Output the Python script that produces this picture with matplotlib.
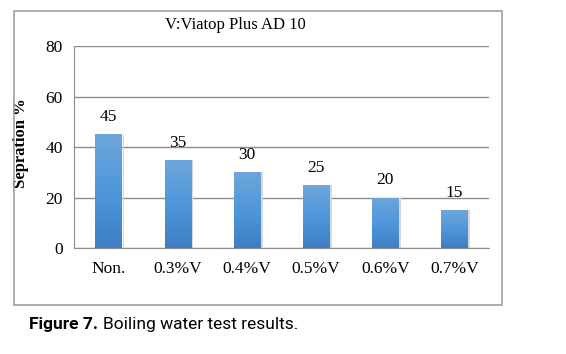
import numpy as np
import matplotlib
matplotlib.use('Agg')
import matplotlib.pyplot as plt
from matplotlib.patches import Rectangle
from matplotlib.colors import LinearSegmentedColormap

categories = ['Non.', '0.3%V', '0.4%V', '0.5%V', '0.6%V', '0.7%V']
separation = [45, 35, 30, 25, 20, 15]
yticks = [0, 20, 40, 60, 80]

serif = ['Liberation Serif', 'DejaVu Serif']
narrow = ['Liberation Sans Narrow', 'Roboto', 'DejaVu Sans']


def main():
    fig = plt.figure(figsize=(5.66, 3.54), dpi=100)
    ax = fig.add_axes([0.1307, 0.2994, 0.7333, 0.5706])

    x = np.arange(len(categories))
    bars = ax.bar(x, separation, width=0.38, color='#5b9bd5', zorder=3)

    # vertical gradient inside each bar (light top, darker bottom)
    cmap = LinearSegmentedColormap.from_list('bar', ['#3d7fc4', '#4f97db', '#6ea6da'])
    grad = np.linspace(0, 1, 100).reshape(-1, 1)
    for b in bars:
        x0, w, h = b.get_x(), b.get_width(), b.get_height()
        # faint shadow to the right of the bar
        ax.bar(x0 + w + 0.012, h, width=0.025, align='edge', color='#d8d8d8', zorder=2)
        im = ax.imshow(grad, cmap=cmap, origin='lower', aspect='auto',
                       extent=(x0, x0 + w, 0, h), zorder=3)
        im.set_clip_path(b)
        ax.text(x0 + w / 2, h + 3.6, str(h), ha='center', va='bottom',
                fontsize=12.5, family=serif)

    ax.set_xlim(-0.5, len(categories) - 0.5)
    ax.set_ylim(0, 80)
    ax.set_yticks(yticks)
    ax.set_xticks(x)
    ax.set_xticklabels(categories, family=serif, fontsize=12.5)
    ax.set_yticklabels([str(t) for t in yticks], family=serif, fontsize=12.5)
    ax.tick_params(length=0, pad=8)
    ax.tick_params(axis='x', pad=9)
    ax.grid(axis='y', color='#8c8c8c', linewidth=1.0, zorder=0)
    for s in ['top', 'right']:
        ax.spines[s].set_visible(False)
    ax.spines['left'].set_color('#8c8c8c')
    ax.spines['bottom'].set_color('#8c8c8c')

    ax.set_ylabel('Sepration %', family=serif, fontsize=12, fontweight='bold')
    ax.yaxis.set_label_coords(-0.108, 0.52)
    fig.text(235 / 566, 1 - 25 / 354, 'V:Viatop Plus AD 10', ha='center', va='center',
             family=serif, fontsize=12)

    # outer chart frame
    fig.patches.append(Rectangle((14 / 566, 1 - 305 / 354), 488 / 566, 294 / 354,
                                 transform=fig.transFigure, fill=False,
                                 edgecolor='#a0a0a0', linewidth=1.2))

    fig.text(29 / 566, 1 - 325 / 354, 'Figure 7.', ha='left', va='center',
             family=narrow, fontsize=12.5, fontweight='bold')
    fig.text(103 / 566, 1 - 325 / 354, 'Boiling water test results.', ha='left', va='center',
             family=narrow, fontsize=12.5)

    fig.savefig('out.png', dpi=100)
    plt.close(fig)


if __name__ == '__main__':
    main()
